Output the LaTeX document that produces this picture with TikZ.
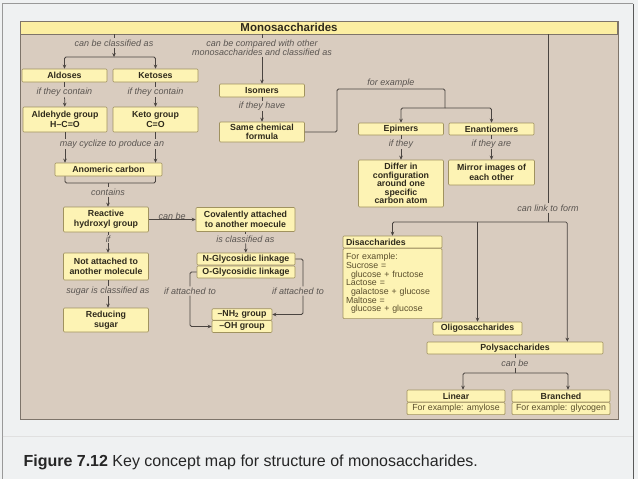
\documentclass[tikz,border=0pt]{standalone}
\usepackage{fontspec}
\setmainfont{Liberation Sans}
\usepackage{tikz}
\usetikzlibrary{arrows.meta, positioning, calc}

\definecolor{pagebg}{HTML}{EFF1F2}
\definecolor{panelbg}{HTML}{D9CCBF}
\definecolor{panelline}{HTML}{7E746A}
\definecolor{boxfill}{HTML}{FDF3B4}
\definecolor{barfill}{HTML}{FCEEA2}
\definecolor{boxline}{HTML}{A0925F}
\definecolor{wirecol}{HTML}{4A4440}
\definecolor{lbltext}{HTML}{5A5551}
\definecolor{boxtext}{HTML}{2F2A1C}
\definecolor{extext}{HTML}{5A4E2C}

\begin{document}
\begin{tikzpicture}[x=1pt, y=-1pt, >={Stealth[length=4pt,width=3.6pt]}]

			\tikzstyle{conc}=[draw=boxline, fill=boxfill, rounded corners=1pt, line width=0.6pt, inner sep=1pt, align=center, text=boxtext, font=\fontsize{8.8}{9.6}\selectfont\bfseries]
			\tikzstyle{lbl}=[fill=panelbg, inner sep=1pt, align=center, text=lbltext, font=\fontsize{9}{9}\selectfont\itshape]
			\tikzstyle{wire}=[draw=wirecol, line width=0.75pt, rounded corners=1.5pt]
			\tikzstyle{exbody}=[conc, font=\fontsize{8.8}{8.7}\selectfont, text=extext]
			
			\useasboundingbox (0,0) rectangle (638,479);
			\fill[pagebg] (0,0) rectangle (638,479);
			\draw[black!40, line width=0.8pt] (2.5,479) -- (2.5,3.5) -- (633,3.5);
			\draw[black!65, line width=0.8pt] (633,3.5) -- (633,479);
			\draw[black!12, line width=1pt] (2.5,436) -- (633,436);
			\draw[panelline, fill=panelbg, line width=0.8pt] (20,21) rectangle (618,419);
			
			\node (bar) at (318.5,27.5) [conc, fill=barfill, draw=panelline, rounded corners=0pt, minimum width=597, minimum height=13] {};
			\node (mono) at (289,27.5) [text=boxtext, font=\fontsize{11.5}{12}\selectfont\bfseries] {Monosaccharides};
			
			% classification branch
			\node (clsA) at (114,43) [lbl] {can be classified as};
			\coordinate (jA) at (114,57);
			\node (aldoses) at (64.5,75.5) [conc, minimum width=85, minimum height=13] {Aldoses};
			\node (ketoses) at (155.5,75.5) [conc, minimum width=85, minimum height=13] {Ketoses};
			\node (ifA) at (64.5,92) [lbl] {if they contain};
			\node (ifK) at (155.5,92) [lbl] {if they contain};
			\node (aldehyde) at (65,119.5) [conc, minimum width=84, minimum height=25] {Aldehyde group\\H--C=O};
			\node (keto) at (155.5,119.5) [conc, minimum width=85, minimum height=25] {Keto group\\C=O};
			\node (cyc) at (112,144) [lbl] {may cyclize to produce an};
			\node (anomeric) at (108.5,169.5) [conc, minimum width=107, minimum height=13] {Anomeric carbon};
			\coordinate (jAn) at (108,183);
			\node (contains) at (108,192) [lbl] {contains};
			\node (reactive) at (106,219.5) [conc, minimum width=85, minimum height=25] {Reactive\\hydroxyl group};
			\node (ifR) at (108,239) [lbl] {if};
			\node (notatt) at (106,266.5) [conc, minimum width=85, minimum height=27] {Not attached to\\another molecule};
			\node (sugarcls) at (108,291) [lbl] {sugar is classified as};
			\node (reducing) at (106,320) [conc, minimum width=85, minimum height=24] {Reducing\\sugar};
			
			\node (covalent) at (245.5,219.5) [conc, minimum width=99, minimum height=24] {Covalently attached\\to another moecule};
			\node (isclass) at (245.5,239) [lbl] {is classified as};
			\node (nglyco) at (246,259) [conc, minimum width=98, minimum height=12] {N-Glycosidic linkage};
			\node (oglyco) at (246,272) [conc, minimum width=98, minimum height=12] {O-Glycosidic linkage};
			\node (ifattL) at (190,291) [lbl] {if attached to};
			\node (ifattR) at (298,291) [lbl] {if attached to};
			\node (nhgroup) at (242,314.5) [conc, minimum width=60, minimum height=11.5] {--NH\textsubscript{2} group};
			\node (ohgroup) at (242,326.5) [conc, minimum width=60, minimum height=12] {--OH group};
			
			% isomer branch
			\node (cmpA) at (262,47.5) [lbl] {can be compared with other\\monosaccharides and classified as};
			\node (isomers) at (262,90.5) [conc, minimum width=85, minimum height=13] {Isomers};
			\node (ifhave) at (262,106) [lbl] {if they have};
			\node (samechem) at (262,132) [conc, minimum width=85, minimum height=20] {Same chemical\\formula};
			\coordinate (bendS) at (337,89);
			\coordinate (jE) at (445,108);
			\node (forex) at (391,83) [lbl, fill=none] {for example};
			\node (epimers) at (401,129) [conc, minimum width=85, minimum height=12] {Epimers};
			\node (enantio) at (491.5,129) [conc, minimum width=85, minimum height=12] {Enantiomers};
			\node (ifthey) at (401,144) [lbl] {if they};
			\node (ifare) at (491.5,144) [lbl] {if they are};
			\node (differ) at (401,183.5) [conc, minimum width=85, minimum height=47, font=\fontsize{8.8}{8.6}\selectfont\bfseries] {Differ in\\configuration\\around one\\specific\\carbon atom};
			\node (mirror) at (491.5,172.5) [conc, minimum width=86, minimum height=25] {Mirror images of\\each other};
			
			% linking branch
			\node (linkA) at (548,208) [lbl] {can link to form};
			\coordinate (jL) at (548,222);
			\node (disacch) at (392.5,242) [conc, minimum width=99, minimum height=12, text width=93, align=left] {Disaccharides};
			\node (disbody) [exbody, below=0pt of disacch, minimum width=99, minimum height=70, text width=93, align=left] {For example:\\Sucrose =\\\hspace*{5pt}glucose + fructose\\Lactose =\\\hspace*{5pt}galactose + glucose\\Maltose =\\\hspace*{5pt}glucose + glucose};
			\node (oligo) at (477.5,328.5) [conc, minimum width=89, minimum height=13] {Oligosaccharides};
			\node (poly) at (515,348) [conc, minimum width=176, minimum height=12] {Polysaccharides};
			\node (canbeP) at (515,363) [lbl] {can be};
			\coordinate (jP) at (515,373);
			\node (linear) at (456,396) [conc, minimum width=98, minimum height=12] {Linear};
			\node (linbody) [exbody, below=0pt of linear, minimum width=98, minimum height=12] {For example: amylose};
			\node (branched) at (561,396) [conc, minimum width=98, minimum height=12] {Branched};
			\node (brbody) [exbody, below=0pt of branched, minimum width=98, minimum height=12] {For example: glycogen};
			
			
			\draw [wire] (bar.south -| clsA) -- (clsA);
			\draw [wire, ->] (clsA) -- (jA);
			\draw [wire, ->] (jA) -| (aldoses);
			\draw [wire, ->] (jA) -| (ketoses);
			\draw [wire] (aldoses) -- (ifA);
			\draw [wire, ->] (ifA) -- (aldehyde);
			\draw [wire] (ketoses) -- (ifK);
			\draw [wire, ->] (ifK) -- (keto);
			\draw [wire] (aldehyde) -- (aldehyde |- cyc.north);
			\draw [wire, ->] (aldehyde |- cyc.south) -- (aldehyde |- anomeric.north);
			\draw [wire] (keto) -- (keto |- cyc.north);
			\draw [wire, ->] (keto |- cyc.south) -- (keto |- anomeric.north);
			\draw [wire] (anomeric.south -| aldehyde) |- (jAn) -| (anomeric.south -| keto);
			\draw [wire] (jAn) -- (contains);
			\draw [wire, ->] (contains) -- (contains |- reactive.north);
			\draw [wire] (reactive.south -| ifR) -- (ifR);
			\draw [wire, ->] (ifR) -- (ifR |- notatt.north);
			\draw [wire] (notatt.south -| sugarcls) -- (sugarcls);
			\draw [wire, ->] (sugarcls) -- (sugarcls |- reducing.north);
			
			\draw [wire, ->] (reactive) -- (covalent) node (canbeR) [lbl, fill=none, midway, above=-1pt] {can be};
			\draw [wire] (covalent) -- (isclass);
			\draw [wire, ->] (isclass) -- (nglyco);
			\draw [wire] (oglyco.west) -| (ifattL);
			\draw [wire, ->] (ifattL) |- (ohgroup.west);
			\draw [wire] (nglyco.east) -| ([xshift=5pt]ifattR.north);
			\draw [wire, ->] ([xshift=5pt]ifattR.south) |- (nhgroup.east);
			
			\draw [wire] (bar.south -| cmpA) -- (cmpA);
			\draw [wire, ->] (cmpA) -- (isomers);
			\draw [wire] (isomers) -- (ifhave);
			\draw [wire, ->] (ifhave) -- (samechem);
			\draw [wire] (samechem.east) -| (bendS) -| (jE);
			\draw [wire, ->] (jE) -| (epimers);
			\draw [wire, ->] (jE) -| (enantio);
			\draw [wire] (epimers) -- (ifthey);
			\draw [wire, ->] (ifthey) -- (differ);
			\draw [wire] (enantio) -- (ifare);
			\draw [wire, ->] (ifare) -- (mirror);
			
			\draw [wire] (bar.south -| linkA) -- (linkA);
			\draw [wire] (linkA) -- (jL);
			\draw [wire, ->] (jL) -| (disacch);
			\draw [wire, ->] (jL -| oligo) -- (oligo);
			\draw [wire, ->] (jL) -| ([xshift=-36pt]poly.north east);
			\draw [wire] (poly) -- (canbeP);
			\draw [wire] (canbeP) -- (jP);
			\draw [wire, ->] (jP) -| ([xshift=7pt]linear.north);
			\draw [wire, ->] (jP) -| ([xshift=7pt]branched.north);
			
			\node (caption) at (20,466) [anchor=base west, text=black!85, font=\fontsize{16}{18}\selectfont] {\textbf{Figure 7.12} Key concept map for structure of monosaccharides.};
			
\end{tikzpicture}
\end{document}
